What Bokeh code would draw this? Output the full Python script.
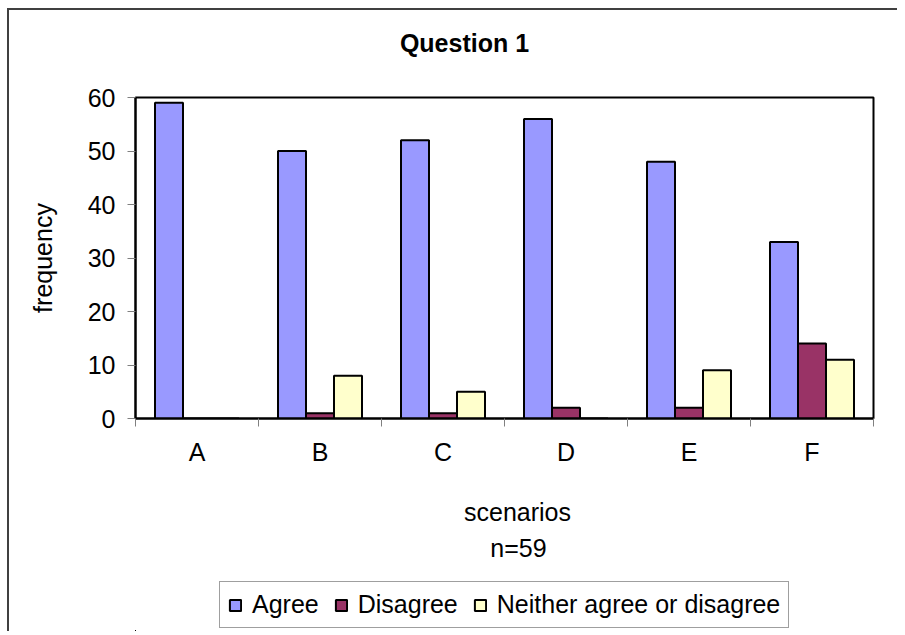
from bokeh.plotting import figure
from bokeh.layouts import column
from bokeh.models import (Range1d, FixedTicker, Legend, LegendItem, Label, ColumnDataSource)
from bokeh.transform import dodge
from bokeh.embed import file_html
from bokeh.resources import INLINE

categories = ["A", "B", "C", "D", "E", "F"]
agree = [59, 50, 52, 56, 48, 33]
disagree = [0, 1, 1, 2, 2, 14]
neither = [0, 8, 5, 0, 9, 11]
series_names = ["Agree", "Disagree", "Neither agree or disagree"]
y_ticks = [0, 10, 20, 30, 40, 50, 60]
title_text = "Question 1"
x_title = "scenarios"
x_subtitle = "n=59"
y_title = "frequency"

colors = ["#9999FF", "#993366", "#FFFFCC"]
FONT = "Liberation Sans"
FS = "25px"
W = 897


def strip(h):
    f = figure(frame_width=W, frame_height=h, min_border=0,
               x_axis_type=None, y_axis_type=None,
               output_backend="svg", toolbar_location=None)
    f.outline_line_color = None
    f.background_fill_alpha = 0
    f.border_fill_alpha = 0
    f.grid.visible = False
    return f


# ---- title strip
f0 = strip(82)
f0.add_layout(Label(x=329, y=40, x_units="screen", y_units="screen", text=title_text,
                    text_font=FONT, text_font_size=FS, text_font_style="bold",
                    text_align="center", text_baseline="alphabetic", text_color="black"))

# ---- main chart
centers = [i + 0.5 for i in range(len(categories))]
boundaries = [float(i) for i in range(len(categories) + 1)]
src = ColumnDataSource(dict(x=centers, agree=agree, disagree=disagree, neither=neither))

p = figure(frame_width=738, frame_height=321,
           min_border_left=135, min_border_top=15, min_border_right=24, min_border_bottom=48,
           x_range=Range1d(0, len(categories)), y_range=Range1d(0, 60),
           output_backend="svg", toolbar_location=None)
p.background_fill_color = "white"
p.border_fill_alpha = 0
p.outline_line_color = "black"
p.outline_line_width = 2
p.xgrid.visible = False
p.ygrid.visible = False

bw = 0.2276
bar_cols = ["agree", "disagree", "neither"]
offsets = [-bw, 0, bw]
for col, off, c in zip(bar_cols, offsets, colors):
    p.vbar(x=dodge("x", off, range=p.x_range), top=col, width=bw, source=src,
           fill_color=c, line_color="black", line_width=2)

xa = p.xaxis[0]
xa.ticker = FixedTicker(ticks=centers, minor_ticks=boundaries)
xa.major_label_overrides = {c: lab for c, lab in zip(centers, categories)}
xa.major_tick_line_color = None
xa.major_tick_out = 8
xa.major_tick_in = 0
xa.minor_tick_out = 8
xa.minor_tick_in = 0
xa.minor_tick_line_color = "#808080"
xa.axis_line_color = "black"
xa.axis_line_width = 2
xa.major_label_text_font = FONT
xa.major_label_text_font_size = FS
xa.major_label_text_color = "black"
xa.major_label_standoff = 11

ya = p.yaxis[0]
ya.ticker = FixedTicker(ticks=y_ticks)
ya.major_tick_out = 8
ya.major_tick_in = 0
ya.major_tick_line_color = "#808080"
ya.minor_tick_line_color = None
ya.axis_line_color = "black"
ya.axis_line_width = 2
ya.major_label_text_font = FONT
ya.major_label_text_font_size = FS
ya.major_label_text_color = "black"
ya.major_label_standoff = 12
ya.axis_label = y_title
ya.axis_label_text_font = FONT
ya.axis_label_text_font_size = FS
ya.axis_label_text_font_style = "normal"
ya.axis_label_text_color = "black"
ya.axis_label_standoff = 28

# ---- bottom strip: axis titles and legend
f2 = strip(163)
# legend-only renderers: this strip's ranges keep their bars far out of view
f2.x_range = Range1d(100, 106)
f2.y_range = Range1d(1000, 1060)
leg_rs = [f2.vbar(x=dodge("x", off), top=col, width=bw, source=src,
                  fill_color=c, line_color="black", line_width=2)
          for col, off, c in zip(bar_cols, offsets, colors)]
f2.add_layout(Label(x=382, y=120, x_units="screen", y_units="screen", text=x_title,
                    text_font=FONT, text_font_size=FS, text_align="center",
                    text_baseline="alphabetic", text_color="black"))
f2.add_layout(Label(x=383, y=84, x_units="screen", y_units="screen", text=x_subtitle,
                    text_font=FONT, text_font_size=FS, text_align="center",
                    text_baseline="alphabetic", text_color="black"))
legend = Legend(items=[LegendItem(label=n, renderers=[r]) for n, r in zip(series_names, leg_rs)],
                location=(219, 3), orientation="horizontal",
                label_text_font=FONT, label_text_font_size=FS, label_text_color="black",
                glyph_width=14, glyph_height=14, label_standoff=10, spacing=15,
                padding=8, margin=0, border_line_color="#404040", border_line_width=1,
                background_fill_color="white", background_fill_alpha=1.0)
f2.add_layout(legend, "center")

layout = column(f0, p, f2, spacing=0)
layout.styles = {"background": "linear-gradient(#404040,#404040) 7px 8px / 2px 100% no-repeat, "
                               "linear-gradient(#404040,#404040) 7px 8px / 100% 2px no-repeat, white"}

open("out.html", "w").write(file_html(layout, INLINE))
